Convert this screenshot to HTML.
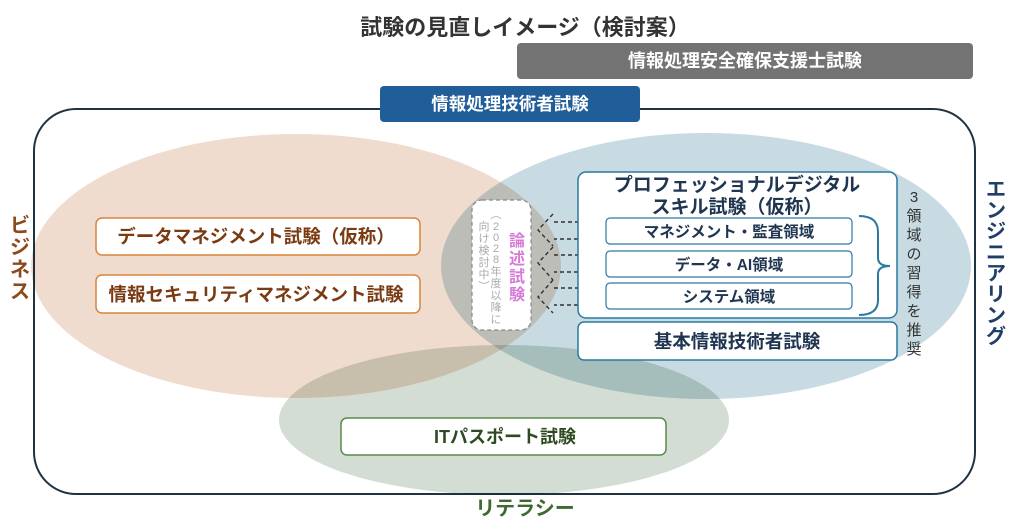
<!DOCTYPE html>
<html><head><meta charset="utf-8"><style>
html,body{margin:0;padding:0;background:#fff;}
svg{display:block;font-family:"Liberation Sans","Noto Sans CJK JP",sans-serif;font-weight:bold;}
</style></head><body>
<svg width="1024" height="526" viewBox="0 0 1024 526" xmlns="http://www.w3.org/2000/svg">
<text x="525" y="35" text-anchor="middle" font-size="22" fill="#333">試験の見直しイメージ（検討案）</text>
<rect x="517" y="43" width="456" height="36" rx="4" fill="#737373"/>
<text x="745" y="67" text-anchor="middle" font-size="18" fill="#fff">情報処理安全確保支援士試験</text>
<rect x="34" y="109" width="941" height="385" rx="42" fill="none" stroke="#1e3344" stroke-width="2"/>
<ellipse cx="296" cy="266" rx="265" ry="132" fill="#f0dccf" style="mix-blend-mode:multiply"/>
<ellipse cx="706" cy="266" rx="265" ry="133" fill="#c8dbe2" style="mix-blend-mode:multiply"/>
<ellipse cx="504" cy="420" rx="225" ry="75" fill="#d4ddd3" style="mix-blend-mode:multiply"/>
<rect x="380" y="86" width="260" height="36" rx="4" fill="#215d98"/>
<text x="510" y="110" text-anchor="middle" font-size="17.5" fill="#fff">情報処理技術者試験</text>
<g font-size="18.5" fill="#7a3a12">
<rect x="96" y="218" width="324" height="37" rx="6" fill="#fff" stroke="#d9843c" stroke-width="1.5"/>
<text x="256" y="243" text-anchor="middle">データマネジメント試験（仮称）</text>
<rect x="96" y="275" width="324" height="38" rx="6" fill="#fff" stroke="#d9843c" stroke-width="1.5"/>
<text x="256" y="301" text-anchor="middle">情報セキュリティマネジメント試験</text>
</g>
<g font-size="20" fill="#8a4a1c" text-anchor="middle">
<text x="20" y="232">ビ</text><text x="20" y="254">ジ</text><text x="20" y="276">ネ</text><text x="20" y="298">ス</text>
</g>
<g font-size="20" fill="#1f3f66" text-anchor="middle">
<text x="996" y="196">エ</text><text x="996" y="217">ン</text><text x="996" y="238">ジ</text><text x="996" y="259">ニ</text><text x="996" y="280">ア</text><text x="996" y="301">リ</text><text x="996" y="322">ン</text><text x="996" y="343">グ</text>
</g>
<text x="525" y="515" text-anchor="middle" font-size="20" fill="#3d6b2f">リテラシー</text>
<rect x="472" y="200" width="59" height="130" rx="10" fill="#fff" stroke="#888" stroke-dasharray="4,3" stroke-width="1.2"/>
<g font-size="16" fill="#d77ad7" text-anchor="middle">
<text x="517" y="246">論</text><text x="517" y="264">述</text><text x="517" y="282">試</text><text x="517" y="300">験</text>
</g>
<g font-size="11" fill="#aaa" text-anchor="middle" font-weight="normal">
<text x="496" y="218">︵</text><text x="496" y="230">2</text><text x="496" y="241">0</text><text x="496" y="252">2</text><text x="496" y="263">8</text><text x="496" y="275">年</text><text x="496" y="287">度</text><text x="496" y="299">以</text><text x="496" y="311">降</text><text x="496" y="323">に</text>
<text x="484" y="230">向</text><text x="484" y="242">け</text><text x="484" y="254">検</text><text x="484" y="266">討</text><text x="484" y="278">中</text><text x="484" y="290">︶</text>
</g>
<g fill="none" stroke="#333" stroke-width="1.4" stroke-dasharray="4,3">
<path d="M554 222 H596 V239 H554"/>
<path d="M554 255 H596 V272 H554"/>
<path d="M554 288 H596 V305 H554"/>
<path d="M553 214 L538 230 L553 246"/>
<path d="M553 247 L538 263 L553 280"/>
<path d="M553 280 L538 297 L553 313"/>
</g>
<rect x="578" y="172" width="319" height="146" rx="8" fill="#fff" stroke="#2a7aa0" stroke-width="1.5"/>
<text x="737" y="191" text-anchor="middle" font-size="19" fill="#1f3550">プロフェッショナルデジタル</text>
<text x="737" y="213" text-anchor="middle" font-size="19" fill="#1f3550">スキル試験（仮称）</text>
<g font-size="15.5" fill="#1f3550" text-anchor="middle">
<rect x="606" y="218" width="246" height="26" rx="4" fill="#fff" stroke="#2a7aa0" stroke-width="1.2"/>
<text x="729" y="237">マネジメント・監査領域</text>
<rect x="606" y="251" width="246" height="26" rx="4" fill="#fff" stroke="#2a7aa0" stroke-width="1.2"/>
<text x="729" y="270">データ・AI領域</text>
<rect x="606" y="283" width="246" height="26" rx="4" fill="#fff" stroke="#2a7aa0" stroke-width="1.2"/>
<text x="729" y="302">システム領域</text>
</g>
<path d="M859 216 Q878 216 878 232 V258 Q878 266 890 266 Q878 266 878 274 V300 Q878 315 859 315" fill="none" stroke="#2a7aa0" stroke-width="2"/>
<rect x="578" y="322" width="319" height="38" rx="6" fill="#fff" stroke="#2a7aa0" stroke-width="1.5"/>
<text x="737" y="348" text-anchor="middle" font-size="18.5" fill="#1f3550">基本情報技術者試験</text>
<g font-size="15" fill="#333" text-anchor="middle" font-weight="normal">
<text x="914" y="202">3</text><text x="914" y="221">領</text><text x="914" y="240">域</text><text x="914" y="259">の</text><text x="914" y="278">習</text><text x="914" y="297">得</text><text x="914" y="316">を</text><text x="914" y="335">推</text><text x="914" y="354">奨</text>
</g>
<rect x="341" y="418" width="325" height="37" rx="6" fill="#fff" stroke="#5a8a4a" stroke-width="1.5"/>
<text x="505" y="443" text-anchor="middle" font-size="18" fill="#2d4a22">ITパスポート試験</text>
</svg>
</body></html>
